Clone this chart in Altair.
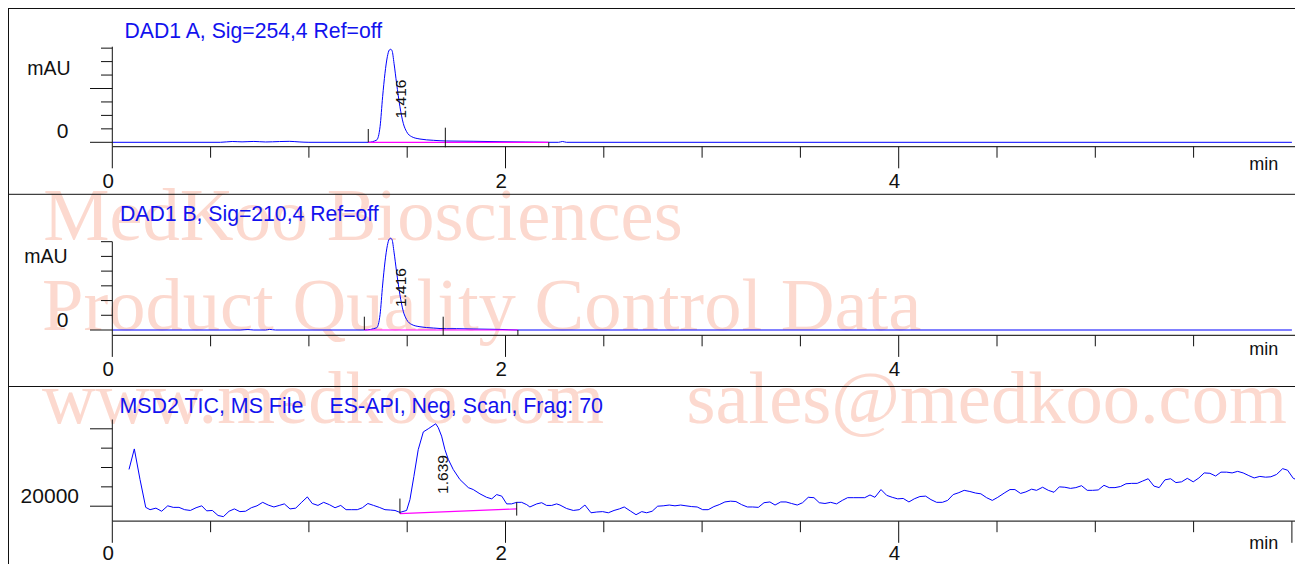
import altair as alt
import pandas as pd

# ---------------- data ----------------
# DAD1 A, Sig=254,4 : time (min) / absorbance (mAU)
dad_a_time = [0.0, 0.55, 0.61, 0.66, 0.72, 0.78, 0.85, 0.90, 0.95, 1.00,
              1.302, 1.345, 1.362, 1.375, 1.387, 1.399, 1.409, 1.416, 1.423, 1.433,
              1.446, 1.463, 1.480, 1.497, 1.523, 1.565, 1.633, 1.701, 1.835, 1.972,
              2.10, 2.209, 2.27, 2.29, 2.31, 6.0]
dad_a_mau = [0, 0, 1.5, 0.8, 1.6, 0.6, 1.4, 1.8, 0.7, 0,
             0, 4.3, 29, 84.8, 128.3, 159.1, 171.6, 172.9, 170.3, 146.8,
             109.7, 66.2, 35.3, 19.7, 10.4, 6.1, 3.7, 2.4, 1.9, 1.1,
             0.5, 0, 0, 1.5, 0, 0]

# DAD1 B, Sig=210,4
dad_b_time = [0.0, 0.65, 0.69, 0.72, 0.78, 0.80, 0.83, 1.282,
              1.345, 1.362, 1.375, 1.387, 1.399, 1.409, 1.416, 1.423, 1.433, 1.446,
              1.463, 1.480, 1.497, 1.523, 1.565, 1.633, 1.701, 1.75, 1.835, 1.972,
              2.063, 6.0]
dad_b_mau = [0, 0, 1.5, 0, 0, 2.0, 0, 0,
             7.7, 52.3, 152.8, 231.2, 286.7, 309.2, 311.6, 306.9, 264.5, 197.7,
             119.3, 63.6, 35.5, 18.7, 11.0, 6.7, 4.3, 4.5, 3.4, 2.0,
             0, 0]

# MSD2 TIC : time (min) / counts
tic_time = [0.085, 0.112, 0.141, 0.170, 0.192, 0.222, 0.251, 0.282, 0.310, 0.339,
            0.368, 0.397, 0.426, 0.455, 0.480, 0.509, 0.538, 0.565, 0.594, 0.621,
            0.649, 0.678, 0.707, 0.736, 0.765, 0.793, 0.822, 0.849, 0.875, 0.904,
            0.933, 0.961, 0.992, 1.017, 1.046, 1.075, 1.104, 1.133, 1.162, 1.189,
            1.218, 1.246, 1.272, 1.300, 1.329, 1.358, 1.387, 1.416, 1.438, 1.463,
            1.497, 1.514, 1.534, 1.556, 1.582, 1.607, 1.645, 1.658, 1.675, 1.692,
            1.709, 1.734, 1.768, 1.811, 1.836, 1.870, 1.904, 1.930, 1.955, 1.981,
            2.006, 2.031, 2.057, 2.082, 2.108, 2.124, 2.159, 2.184, 2.209, 2.235,
            2.260, 2.277, 2.311, 2.345, 2.375, 2.404, 2.435, 2.464, 2.494, 2.523,
            2.552, 2.579, 2.604, 2.637, 2.664, 2.693, 2.718, 2.746, 2.774, 2.802,
            2.833, 2.862, 2.891, 2.918, 2.947, 2.975, 3.003, 3.031, 3.060, 3.087,
            3.116, 3.145, 3.172, 3.201, 3.230, 3.257, 3.286, 3.315, 3.345, 3.371,
            3.400, 3.427, 3.455, 3.484, 3.511, 3.540, 3.569, 3.596, 3.625, 3.654,
            3.684, 3.713, 3.740, 3.769, 3.798, 3.827, 3.854, 3.879, 3.910, 3.939,
            3.967, 3.995, 4.023, 4.052, 4.079, 4.108, 4.137, 4.164, 4.193, 4.222,
            4.249, 4.277, 4.306, 4.333, 4.362, 4.391, 4.418, 4.447, 4.476, 4.504,
            4.540, 4.566, 4.591, 4.620, 4.647, 4.676, 4.701, 4.732, 4.761, 4.790,
            4.817, 4.845, 4.874, 4.901, 4.930, 4.959, 4.986, 5.015, 5.044, 5.071,
            5.100, 5.129, 5.156, 5.185, 5.213, 5.241, 5.269, 5.298, 5.325, 5.354,
            5.383, 5.410, 5.439, 5.468, 5.498, 5.527, 5.554, 5.583, 5.612, 5.639,
            5.668, 5.696, 5.724, 5.752, 5.781, 5.808, 5.837, 5.866, 5.893, 5.922,
            5.953, 5.978, 6.007, 6.032, 6.055]
tic_counts = [29500, 34800, 26900, 19700, 19100, 19500, 18700, 20100, 19700, 19700,
              19100, 18900, 19600, 20100, 18800, 18900, 17600, 17300, 18700, 19300,
              18600, 18700, 19600, 20100, 21000, 20300, 19800, 20200, 20600, 19300,
              19500, 20900, 22400, 20700, 20200, 21000, 20400, 19600, 20200, 19100,
              19100, 19100, 19600, 20700, 20200, 19700, 19100, 19000, 18900, 18400,
              18900, 21700, 27700, 34600, 39200, 40000, 41300, 40300, 38100, 34600,
              32100, 29500, 26900, 24800, 24300, 23200, 22300, 21900, 23000, 22600,
              20600, 20600, 21000, 21000, 20400, 19800, 20600, 20900, 20200, 20200,
              20600, 20300, 19400, 18900, 19100, 20300, 18300, 18500, 18600, 18300,
              18900, 19300, 19800, 18700, 17800, 18600, 18300, 18700, 20000, 20100,
              20300, 20100, 20300, 20100, 19900, 19800, 19100, 19100, 19900, 20400,
              21100, 21300, 21200, 20400, 19800, 19800, 19700, 20900, 21100, 20300,
              21100, 21100, 20700, 20300, 20900, 22300, 22200, 20900, 20700, 21000,
              20600, 21500, 22200, 22200, 22200, 22200, 22900, 22300, 24300, 22800,
              22300, 21900, 22000, 21100, 21900, 22500, 22600, 21700, 21000, 21000,
              21500, 23000, 23500, 24100, 23800, 23400, 23200, 22200, 21500, 22300,
              23500, 24300, 24300, 23300, 23700, 24400, 24100, 24900, 24100, 23600,
              25000, 24900, 24600, 24800, 25300, 24100, 24100, 24200, 25400, 24800,
              24800, 25100, 25800, 25900, 25900, 26500, 27100, 25200, 24800, 26800,
              27100, 26100, 26300, 27200, 26300, 27300, 28600, 28500, 27800, 28800,
              28800, 28600, 29000, 28600, 27900, 27300, 27700, 27500, 27600, 28200,
              29700, 29300, 27200, 26700, 27300]

# axis ticks and labels
x_ticks_dad = [0, 0.5, 1, 1.5, 2, 2.5, 3, 3.5, 4, 4.5, 5, 5.5]
x_ticks_tic = [0, 0.5, 1, 1.5, 2, 2.5, 3, 3.5, 4, 4.5, 5, 5.5, 6]
x_label_vals = [0, 2, 4]
y_ticks_a = [0, 25, 50, 75, 100, 125, 150, 175]
y_ticks_b = [0, 50, 100, 150, 200, 250, 300]
y_ticks_tic = [20000, 25000, 30000, 35000, 40000]

titles = ["DAD1 A, Sig=254,4 Ref=off", "DAD1 B, Sig=210,4 Ref=off",
          "MSD2 TIC, MS File", "ES-API, Neg, Scan, Frag: 70"]
watermark = ["MedKoo Biosciences", "Product Quality Control Data",
             "www.medkoo.com", "sales@medkoo.com"]

# ---------------- layout / style ----------------
FONT = "Liberation Sans"
BLUE = "#0000FF"
TXT_BLUE = "#1212EE"
MAGENTA = "#FF00FF"
INK = "#111111"
WM = "#FCD9CF"

W, H = 1287, 556
ORG = 8          # page margin
PXM = 196.6      # pixels per minute
X0 = 112.3       # page x of t = 0
XD = [(ORG - X0) / PXM, (ORG + W - X0) / PXM]
xs = alt.Scale(domain=XD, nice=False, zero=False)


def build_panel(sig_t, sig_v, cfg):
    k, v0, base = cfg["k"], cfg["v0"], cfg["base"]
    ys = alt.Scale(domain=[v0 - (ORG + H - base) / k, v0 + (base - ORG) / k],
                   nice=False, zero=False)

    def X(f):
        return alt.X(f, type="quantitative", scale=xs, axis=None)

    def Y(f):
        return alt.Y(f, type="quantitative", scale=ys, axis=None)

    axis_v = v0 - cfg["gap"] / k
    layers = []

    # signal
    layers.append(alt.Chart(pd.DataFrame({"t": sig_t, "v": sig_v}))
                  .mark_line(color=BLUE, strokeWidth=1, interpolate=cfg["interp"])
                  .encode(x=X("t"), y=Y("v")))

    # x axis line
    layers.append(alt.Chart(pd.DataFrame({"a": [0.0], "b": [XD[1]], "y": [axis_v]}))
                  .mark_rule(color="#333333", strokeWidth=1.3)
                  .encode(x=X("a"), x2=alt.X2("b"), y=Y("y")))
    # x ticks
    tdf = pd.DataFrame({"t": cfg["xticks"]})
    tdf["y0"] = axis_v
    tdf["y1"] = [axis_v - (21.6 if t in cfg["xmajor"] else 11.0) / k for t in cfg["xticks"]]
    layers.append(alt.Chart(tdf).mark_rule(color=INK, strokeWidth=1)
                  .encode(x=X("t"), y=Y("y0"), y2=alt.Y2("y1")))
    # x labels
    ldf = pd.DataFrame({"t": x_label_vals, "lab": [str(v) for v in x_label_vals]})
    ldf["y"] = axis_v
    layers.append(alt.Chart(ldf)
                  .mark_text(align="right", baseline="alphabetic", dx=1.5, dy=cfg["xlab_dy"],
                             font=FONT, fontSize=20.5, color=INK)
                  .encode(x=X("t"), y=Y("y"), text="lab:N"))

    # y axis line
    ytop = v0 + (base - cfg["ytop_px"]) / k
    layers.append(alt.Chart(pd.DataFrame({"x": [0.0], "y0": [axis_v], "y1": [ytop]}))
                  .mark_rule(color=INK, strokeWidth=1)
                  .encode(x=X("x"), y=Y("y0"), y2=alt.Y2("y1")))
    # y ticks
    ydf = pd.DataFrame({"v": cfg["yticks"]})
    ydf["x0"] = 0.0
    ydf["x1"] = [-(22.3 if v in cfg["ymajor"] else 11.3) / PXM for v in cfg["yticks"]]
    layers.append(alt.Chart(ydf).mark_rule(color=INK, strokeWidth=1)
                  .encode(x=X("x1"), x2=alt.X2("x0"), y=Y("v")))
    # y label
    layers.append(alt.Chart(pd.DataFrame({"x": [0.0], "v": [v0], "lab": [cfg["ylab"]]}))
                  .mark_text(align="right", baseline="alphabetic", dx=cfg["ylab_dx"],
                             dy=cfg["ylab_dy"], font=FONT, fontSize=21, color=INK)
                  .encode(x=X("x"), y=Y("v"), text="lab:N"))

    # integration baseline
    b = cfg["baseline"]
    layers.append(alt.Chart(pd.DataFrame({"t0": [b[0]], "t1": [b[1]], "v0": [b[2]], "v1": [b[3]]}))
                  .mark_rule(color=MAGENTA, strokeWidth=1.2)
                  .encode(x=X("t0"), x2=alt.X2("t1"), y=Y("v0"), y2=alt.Y2("v1")))
    # integration event markers
    mdf = pd.DataFrame(cfg["markers"], columns=["t", "v", "up", "down"])
    mdf["y0"] = mdf["v"] + mdf["up"] / k
    mdf["y1"] = mdf["v"] - mdf["down"] / k
    layers.append(alt.Chart(mdf).mark_rule(color=INK, strokeWidth=1)
                  .encode(x=X("t"), y=Y("y0"), y2=alt.Y2("y1")))

    # peak label
    lab, rt, lv, xo, yo = cfg["label"]
    layers.append(alt.Chart(pd.DataFrame({"t": [rt], "v": [lv], "lab": [lab]}))
                  .mark_text(angle=270, align="center", baseline="middle",
                             xOffset=xo, yOffset=yo, font=FONT, fontSize=15.5, color=INK)
                  .encode(x=X("t"), y=Y("v"), text="lab:N"))
    return alt.layer(*layers)


P1 = dict(base=142.3, v0=0, k=13.45 / 25, gap=4.4, xticks=x_ticks_dad, xmajor=[0, 2, 4],
          yticks=y_ticks_a, ymajor=[0, 100], ytop_px=46.7, ylab="0", ylab_dx=-43.8,
          ylab_dy=-4, xlab_dy=41.5, interp="monotone", baseline=(1.302, 2.220, 0, 0),
          markers=[(1.302, 0, 13.3, 0), (1.694, 0, 14.6, 5.0), (2.220, 0, 0, 5.0)],
          label=("1.416", 1.416, 0, 10.3, -43.3))
P2 = dict(base=330.0, v0=0, k=14.72 / 50, gap=5.3, xticks=x_ticks_dad, xmajor=[0, 2, 4],
          yticks=y_ticks_b, ymajor=[0], ytop_px=241.7, ylab="0", ylab_dx=-43.8,
          ylab_dy=-3, xlab_dy=41.0, interp="monotone", baseline=(1.282, 2.063, 0, 0),
          markers=[(1.282, 0, 13.3, 0), (1.683, 0, 13.3, 5.3), (2.063, 0, 0, 5.3)],
          label=("1.416", 1.416, 0, 10.1, -42.5))
P3 = dict(base=506.2, v0=20000, k=19.35 / 5000, gap=15.0, xticks=x_ticks_tic, xmajor=[0, 2, 4, 6],
          yticks=y_ticks_tic, ymajor=[20000, 40000], ytop_px=419.5, ylab="20000", ylab_dx=-33.3,
          ylab_dy=-3.4, xlab_dy=38.5, interp="linear", baseline=(1.463, 2.057, 18100, 19300),
          markers=[(1.463, 18100, 15.0, 0), (2.057, 19300, 6.7, 6.7)],
          label=("1.639", 1.639, 20000, 8.8, -31.7))

p1 = build_panel(dad_a_time, dad_a_mau, P1)
p2 = build_panel(dad_b_time, dad_b_mau, P2)
p3 = build_panel(tic_time, tic_counts, P3)

one = pd.DataFrame({"d": [0]})


def vtext(txt, x, y, size, color, font=FONT, align="left"):
    return (alt.Chart(one)
            .mark_text(align=align, baseline="alphabetic", font=font, fontSize=size, color=color)
            .encode(x=alt.value(x), y=alt.value(y), text=alt.value(txt)))


def hline(y, x1=0, x2=W):
    return alt.Chart(one).mark_rule(color=INK, strokeWidth=1).encode(
        x=alt.value(x1), x2=alt.value(x2), y=alt.value(y))


# watermark (behind everything)
wm_layers = [
    vtext(watermark[0], 35.3, 232, 74.5, WM, font="Liberation Serif"),
    vtext(watermark[1], 34.0, 322, 74.5, WM, font="Liberation Serif"),
    vtext(watermark[2], 34.0, 415, 74.5, WM, font="Liberation Serif"),
    vtext(watermark[3], 678.5, 415, 74.5, WM, font="Liberation Serif"),
]

frame_layers = [
    hline(0.5), hline(186.3), hline(378.5),
    alt.Chart(one).mark_rule(color=INK, strokeWidth=1).encode(
        x=alt.value(0.5), y=alt.value(0), y2=alt.value(H)),
]

text_layers = [
    vtext(titles[0], 116.5, 30, 21.2, TXT_BLUE),
    vtext(titles[1], 112.0, 213, 21.2, TXT_BLUE),
    vtext(titles[2], 111.5, 405, 21.4, TXT_BLUE),
    vtext(titles[3], 321.5, 405, 21.4, TXT_BLUE),
    vtext("mAU", 62.5, 67, 19.5, INK, align="right"),
    vtext("mAU", 59.5, 255, 19.5, INK, align="right"),
    vtext("min", 1270.3, 161.5, 18, INK, align="right"),
    vtext("min", 1270.3, 346.5, 18, INK, align="right"),
    vtext("min", 1270.3, 540.5, 18, INK, align="right"),
]

chart = (alt.layer(*wm_layers, *frame_layers, *text_layers, p1, p2, p3)
         .resolve_scale(y="independent")
         .properties(width=W, height=H, padding=0, background="white",
                     autosize=alt.AutoSizeParams(type="none"))
         .configure_view(stroke=None))

chart.save("out.html", embed_options={"renderer": "svg", "actions": False})
